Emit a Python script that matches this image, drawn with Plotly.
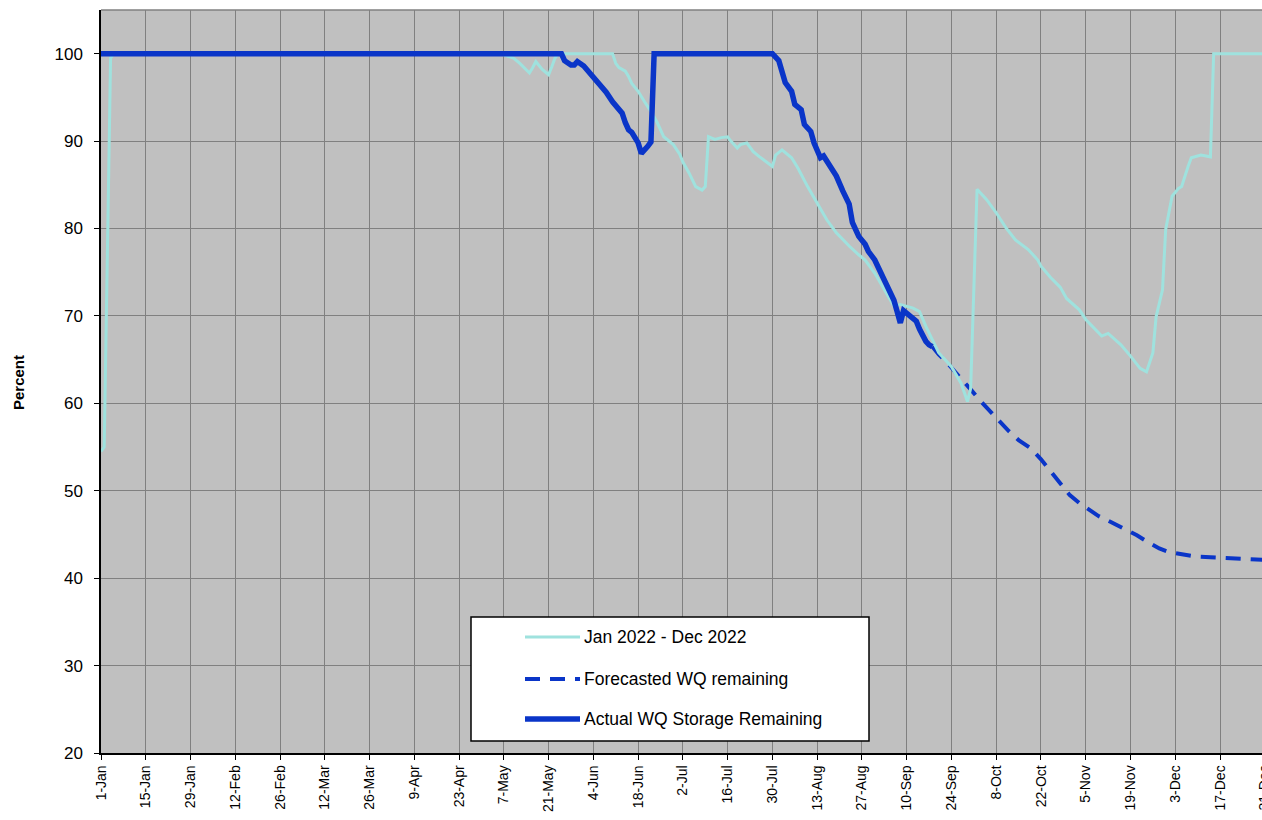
import plotly.graph_objects as go

# ---------------- data ----------------
actual_dates = [
    "2022-01-01", "2022-05-25", "2022-05-26", "2022-05-28", "2022-05-29", "2022-05-30",
    "2022-06-01", "2022-06-03", "2022-06-05", "2022-06-06", "2022-06-08", "2022-06-10",
    "2022-06-12", "2022-06-13", "2022-06-14", "2022-06-15", "2022-06-16", "2022-06-18",
    "2022-06-19", "2022-06-20", "2022-06-21", "2022-06-22", "2022-06-23", "2022-07-30",
    "2022-08-01", "2022-08-03", "2022-08-05", "2022-08-06", "2022-08-08", "2022-08-09",
    "2022-08-11", "2022-08-12", "2022-08-14", "2022-08-15", "2022-08-17", "2022-08-19",
    "2022-08-21", "2022-08-23", "2022-08-24", "2022-08-26", "2022-08-28", "2022-08-29",
    "2022-08-31", "2022-09-02", "2022-09-04", "2022-09-06", "2022-09-07", "2022-09-08",
    "2022-09-09", "2022-09-10", "2022-09-13", "2022-09-14", "2022-09-15", "2022-09-16",
    "2022-09-17", "2022-09-18",
]
actual_values = [
    100, 100, 99.2, 98.7, 98.7, 99.1,
    98.6, 97.8, 97.0, 96.6, 95.6, 94.5,
    93.6, 93.2, 92.1, 91.3, 91.0, 89.8,
    88.6, 88.9, 89.4, 89.9, 100, 100,
    99.2, 96.7, 95.7, 94.2, 93.6, 91.9,
    91.1, 89.8, 88.1, 88.3, 87.1, 86.0,
    84.3, 82.8, 80.7, 79.1, 78.2, 77.4,
    76.4, 74.9, 73.4, 71.8, 70.5, 69.2,
    70.6, 70.3, 69.4, 68.5, 67.7, 67.1,
    66.7, 66.5,
]

forecast_dates = [
    "2022-09-18", "2022-09-20", "2022-09-22", "2022-09-25", "2022-09-27", "2022-09-30",
    "2022-10-03", "2022-10-06", "2022-10-09", "2022-10-12", "2022-10-15", "2022-10-19",
    "2022-10-22", "2022-10-25", "2022-10-28", "2022-10-31", "2022-11-03", "2022-11-06",
    "2022-11-09", "2022-11-13", "2022-11-17", "2022-11-21", "2022-11-25", "2022-11-28",
    "2022-12-01", "2022-12-05", "2022-12-09", "2022-12-14", "2022-12-19", "2022-12-25",
    "2022-12-31",
]
forecast_values = [
    66.5, 65.6, 64.9, 63.7, 62.8, 61.6,
    60.3, 59.1, 58.0, 56.8, 55.8, 54.8,
    53.6, 52.2, 50.8, 49.5, 48.6, 47.8,
    47.1, 46.4, 45.7, 44.9, 44.0, 43.4,
    43.0, 42.7, 42.5, 42.4, 42.3, 42.2,
    42.1,
]

year2022_dates = [
    "2022-01-01", "2022-01-02", "2022-01-04", "2022-01-05", "2022-05-06", "2022-05-10",
    "2022-05-12", "2022-05-15", "2022-05-16", "2022-05-17", "2022-05-19", "2022-05-21",
    "2022-05-22", "2022-05-23", "2022-05-24", "2022-06-10", "2022-06-11", "2022-06-12",
    "2022-06-14", "2022-06-15", "2022-06-16", "2022-06-18", "2022-06-20", "2022-06-22",
    "2022-06-24", "2022-06-26", "2022-06-29", "2022-07-01", "2022-07-02", "2022-07-04",
    "2022-07-06", "2022-07-08", "2022-07-09", "2022-07-10", "2022-07-12", "2022-07-14",
    "2022-07-16", "2022-07-17", "2022-07-19", "2022-07-20", "2022-07-22", "2022-07-24",
    "2022-07-26", "2022-07-28", "2022-07-30", "2022-07-31", "2022-08-02", "2022-08-05",
    "2022-08-07", "2022-08-10", "2022-08-13", "2022-08-16", "2022-08-19", "2022-08-23",
    "2022-08-26", "2022-08-28", "2022-08-31", "2022-09-03", "2022-09-06", "2022-09-08",
    "2022-09-10", "2022-09-12", "2022-09-14", "2022-09-15", "2022-09-16", "2022-09-18",
    "2022-09-20", "2022-09-24", "2022-09-27", "2022-09-29", "2022-09-30", "2022-10-02",
    "2022-10-05", "2022-10-08", "2022-10-11", "2022-10-14", "2022-10-18", "2022-10-21",
    "2022-10-22", "2022-10-25", "2022-10-28", "2022-10-30", "2022-11-01", "2022-11-03",
    "2022-11-05", "2022-11-10", "2022-11-12", "2022-11-16", "2022-11-19", "2022-11-22",
    "2022-11-24", "2022-11-26", "2022-11-27", "2022-11-29", "2022-11-30", "2022-12-02",
    "2022-12-04", "2022-12-05", "2022-12-07", "2022-12-08", "2022-12-11", "2022-12-14",
    "2022-12-15", "2022-12-31",
]
year2022_values = [
    54.5, 55.0, 99.5, 100, 100, 99.5,
    98.9, 97.8, 98.4, 99.1, 98.2, 97.6,
    98.5, 99.5, 100, 100, 98.9, 98.4,
    98.0, 97.4, 96.6, 95.7, 94.5, 93.4,
    92.1, 90.5, 89.6, 88.5, 87.6, 86.3,
    84.8, 84.4, 84.8, 90.5, 90.2, 90.4,
    90.5, 90.0, 89.2, 89.6, 89.8, 88.8,
    88.2, 87.7, 87.1, 88.4, 89.0, 88.1,
    86.9, 84.8, 82.9, 81.0, 79.5, 78.0,
    77.0, 76.4, 74.9, 73.0, 71.1, 71.3,
    71.1, 70.9, 70.5, 69.6, 68.8, 67.3,
    65.8, 64.2, 62.3, 60.2, 61.7, 84.5,
    83.3, 81.8, 80.1, 78.7, 77.6, 76.4,
    75.7, 74.4, 73.3, 72.0, 71.3, 70.7,
    69.6, 67.7, 68.0, 66.7, 65.4, 64.0,
    63.6, 65.8, 69.9, 73.0, 79.9, 83.7,
    84.6, 84.8, 87.1, 88.1, 88.4, 88.2,
    100, 100,
]

series_names = ["Jan 2022 - Dec 2022", "Forecasted WQ remaining", "Actual WQ Storage Remaining"]
y_ticks = [20, 30, 40, 50, 60, 70, 80, 90, 100]

# ---------------- style ----------------
CYAN = "#9FE2DE"
BLUE = "#0A35C8"
GRID = "#808080"
BG = "#C0C0C0"
FONT = "Arial, Liberation Sans, sans-serif"

# The original chart is wider than the window (its right edge is cut off);
# the figure is made slightly wider and the page clips it.
W, H = 1268, 820
ML, MR, MT, MB = 101, 0, 10, 67
PW = W - ML - MR
PH = H - MT - MB


def px_x(px):
    """screen pixel -> paper x"""
    return (px - ML) / PW


def px_y(py):
    """screen pixel -> paper y"""
    return (H - MB - py) / PH


fig = go.Figure()
fig.add_trace(go.Scatter(x=forecast_dates, y=forecast_values, mode="lines", name=series_names[1],
                         line=dict(color=BLUE, width=4, dash="15px,10px"), showlegend=False))
fig.add_trace(go.Scatter(x=year2022_dates, y=year2022_values, mode="lines", name=series_names[0],
                         line=dict(color=CYAN, width=3), showlegend=False))
fig.add_trace(go.Scatter(x=actual_dates, y=actual_values, mode="lines", name=series_names[2],
                         line=dict(color=BLUE, width=5.5), showlegend=False))

fig.update_layout(
    width=W, height=H,
    margin=dict(l=ML, r=MR, t=MT, b=MB),
    paper_bgcolor="white",
    plot_bgcolor=BG,
    font=dict(family=FONT, color="black"),
    showlegend=False,
)
fig.update_xaxes(
    type="date",
    range=["2022-01-01", "2023-01-01"],
    tick0="2022-01-01", dtick=14 * 86400000,
    tickformat="%-d-%b", tickangle=-90,
    tickfont=dict(size=14, family=FONT),
    ticks="outside", ticklen=5, tickcolor="black",
    ticklabeloverflow="allow",
    showgrid=True, gridcolor=GRID, gridwidth=1,
    showline=True, linecolor="black", linewidth=1.5,
    automargin=False, zeroline=False,
)
fig.update_yaxes(
    range=[20, 105],
    tickvals=y_ticks,
    tickfont=dict(size=17, family=FONT),
    ticks="outside", ticklen=5, tickcolor="black",
    ticklabelstandoff=8,
    showgrid=True, gridcolor=GRID, gridwidth=1,
    showline=True, linecolor="black", linewidth=1.5,
    automargin=False, zeroline=False,
)

# top border of plot area
fig.add_shape(type="line", xref="paper", yref="paper", x0=0, x1=1, y0=1, y1=1,
              line=dict(color=GRID, width=1.5))

# y-axis title
fig.add_annotation(text="<b>Percent</b>", xref="paper", yref="paper",
                   x=px_x(18), y=px_y(383), textangle=-90, showarrow=False,
                   font=dict(size=15, family=FONT, color="black"), xanchor="center", yanchor="middle")

# legend box (manual, to match the original layout)
lx0, lx1, ly0, ly1 = 471, 869, 617, 741
fig.add_shape(type="rect", xref="paper", yref="paper",
              x0=px_x(lx0), x1=px_x(lx1), y0=px_y(ly1), y1=px_y(ly0),
              fillcolor="white", line=dict(color="black", width=1.5), layer="above")
rows = [637, 679, 719]
styles = [dict(color=CYAN, width=3), dict(color=BLUE, width=4, dash="15px,10px"), dict(color=BLUE, width=5.5)]
for name, ry, st in zip(series_names, rows, styles):
    fig.add_shape(type="line", xref="paper", yref="paper",
                  x0=px_x(525), x1=px_x(580), y0=px_y(ry), y1=px_y(ry), line=st, layer="above")
    fig.add_annotation(text=name, xref="paper", yref="paper", x=px_x(582), y=px_y(ry),
                       xanchor="left", yanchor="middle", showarrow=False,
                       font=dict(size=17.5, family=FONT, color="black"))

fig.write_html(
    "out.html",
    config={"displayModeBar": False},
    post_script="document.body.style.margin='0';document.body.style.overflow='hidden';",
)
